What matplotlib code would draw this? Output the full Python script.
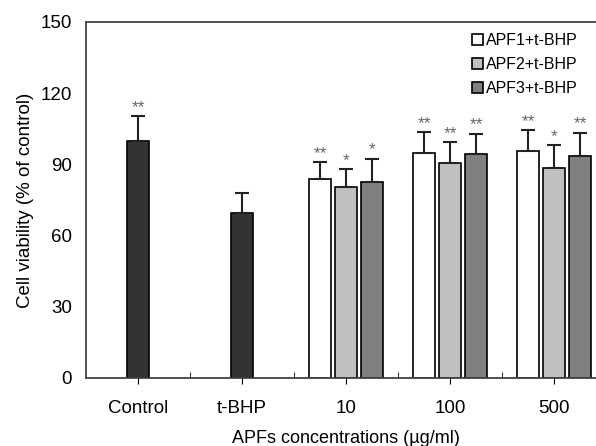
import matplotlib
matplotlib.use("Agg")
import matplotlib.pyplot as plt
import numpy as np
from matplotlib.patches import Patch

plt.rcParams['font.family'] = ['Liberation Sans', 'DejaVu Sans']

categories = ["Control", "t-BHP", "10", "100", "500"]
single_vals = [100.0, 69.5]
single_err = [10.2, 8.5]
single_sig = ["**", ""]

series_names = ["APF1+t-BHP", "APF2+t-BHP", "APF3+t-BHP"]
apf_vals = [[83.7, 94.7, 95.5],
            [80.6, 90.6, 88.6],
            [82.7, 94.5, 93.5]]
apf_err = [[7.2, 9.0, 9.0],
           [7.5, 8.8, 9.6],
           [9.7, 8.5, 9.9]]
apf_sig = [["**", "**", "**"],
           ["*", "**", "*"],
           ["*", "**", "**"]]

colors = ["white", "#c0c0c0", "#808080"]
dark = "#333333"

fig = plt.figure(figsize=(5.96, 4.46), dpi=100)
ax = fig.add_axes([86/596, 1-378/446, 520/596, 356/446])

w = 0.217
off = 0.25
ekw = dict(ecolor="#222222", elinewidth=1.5, capsize=5, capthick=1.5)
x = np.arange(len(categories))
sig_fs = 12.5

for i in range(2):
    ax.bar(x[i], single_vals[i], w, color=dark, edgecolor="black", linewidth=1.2,
           yerr=[[0], [single_err[i]]], error_kw=ekw, zorder=2)
    if single_sig[i]:
        ax.text(x[i], single_vals[i] + single_err[i] + 0.5, single_sig[i],
                ha="center", va="bottom", color="#666666", fontsize=sig_fs)

for s in range(3):
    xs = x[2:] + (s - 1) * off
    ax.bar(xs, apf_vals[s], w, color=colors[s], edgecolor="black", linewidth=1.2,
           yerr=[np.zeros(3), apf_err[s]], error_kw=ekw, zorder=2, label=series_names[s])
    for j in range(3):
        ax.text(xs[j], apf_vals[s][j] + apf_err[s][j] + 0.5, apf_sig[s][j],
                ha="center", va="bottom", color="#666666", fontsize=sig_fs)

ax.set_xlim(-0.5, 4.5)
ax.set_ylim(0, 150)
ax.set_yticks([0, 30, 60, 90, 120, 150])
ax.set_xticks(x)
ax.set_xticklabels(categories)
ax.set_xticks(np.arange(0.5, 4.5, 1.0), minor=True)
ax.tick_params(axis="x", which="major", direction="out", length=4, pad=12, labelsize=13.5)
ax.tick_params(axis="x", which="minor", direction="in", length=4)
ax.tick_params(axis="y", direction="out", length=0, pad=10, labelsize=13.5)
for sp in ax.spines.values():
    sp.set_linewidth(1.3)
    sp.set_color("#444444")
ax.spines["right"].set_visible(False)

ax.set_ylabel("Cell viability (% of control)", fontsize=13.5, labelpad=5)
ax.set_xlabel("APFs concentrations (µg/ml)", fontsize=13, labelpad=9)

handles = [Patch(facecolor=c, edgecolor="black", linewidth=1.2) for c in colors]
leg = ax.legend(handles, series_names, loc="upper left", bbox_to_anchor=(0.72, 1.0),
                frameon=False, fontsize=11.5, handlelength=0.7, handleheight=0.7,
                handletextpad=0.2, labelspacing=0.55, borderaxespad=0.3)

fig.savefig("out.png", dpi=100)
